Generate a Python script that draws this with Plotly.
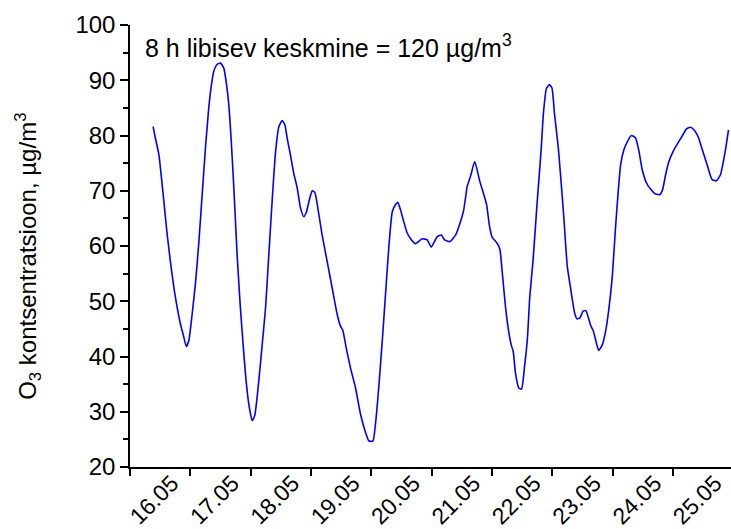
import plotly.graph_objects as go

# hours since 16.05 00:00
hours = [9.2, 10.1, 11.5, 13.2, 14.8, 16.4, 18.1, 20.1, 21.2, 22.4, 23.4, 24.7, 26.1, 27.4,
         28.7, 30.0, 31.3, 32.4, 33.3, 34.7, 36.0, 37.3, 38.4, 39.3, 40.2, 41.3, 42.6, 43.9,
         45.3, 46.6, 47.6, 48.6, 49.6, 50.8, 52.2, 53.9, 55.2, 56.6, 57.9, 59.2, 60.5, 61.6,
         62.5, 63.8, 65.1, 66.5, 67.8, 69.1, 70.2, 71.5, 72.5, 73.5, 74.7, 76.4, 78.4, 80.4,
         82.4, 83.7, 84.6, 86.0, 87.7, 89.7, 91.7, 93.7, 95.0, 96.6, 97.6, 98.9, 100.3, 101.6,
         102.9, 104.3, 105.6, 106.5, 107.6, 108.8, 110.2, 111.6, 113.5, 116.2, 118.2, 119.8,
         122.2, 123.8, 125.1, 127.2, 129.5, 131.0, 132.7, 134.1, 135.4, 137.1, 139.1, 140.7,
         141.8, 143.0, 144.0, 146.0, 147.1, 148.0, 149.3, 150.6, 151.6, 152.4, 153.3, 154.6,
         155.7, 156.9, 158.0, 159.0, 160.3, 161.9, 163.5, 164.4, 165.6, 166.8, 167.8, 168.8,
         170.4, 172.5, 173.9, 175.5, 176.8, 177.8, 178.9, 180.2, 181.3, 182.5, 183.4, 184.2,
         185.5, 186.4, 187.8, 189.1, 190.4, 191.8, 193.1, 195.1, 196.4, 197.9, 199.4, 201.0,
         202.3, 203.7, 205.4, 207.0, 209.0, 210.7, 211.8, 213.0, 214.3, 216.3, 218.1, 219.7,
         221.3, 222.9, 224.5, 226.1, 227.6, 229.5, 231.5, 233.2, 234.8, 236.8, 238.0]

o3 = [81.6, 79.5, 76.5, 69.3, 62.0, 56.0, 50.6, 45.8, 43.9, 41.8, 42.9, 47.6, 53.6, 60.8,
      69.3, 77.7, 84.9, 89.2, 91.6, 92.9, 93.1, 92.2, 89.2, 85.5, 79.5, 70.5, 58.4, 48.8,
      40.3, 33.7, 30.4, 28.4, 29.3, 33.7, 40.3, 48.8, 58.4, 68.7, 77.1, 81.6, 82.7, 81.9,
      79.5, 76.5, 73.2, 70.5, 66.9, 65.3, 66.2, 68.7, 70.0, 69.7, 66.9, 62.0, 57.2, 52.4,
      47.6, 45.5, 44.8, 41.5, 37.9, 34.3, 29.5, 26.2, 24.7, 24.7, 27.7, 34.3, 42.7, 51.2,
      59.6, 66.2, 67.5, 67.9, 66.5, 64.5, 62.4, 61.3, 60.4, 61.3, 61.1, 59.8,
      61.7, 62.0, 61.1, 60.8, 62.0, 63.8, 66.5, 70.8, 72.6, 75.3, 71.7, 69.3,
      67.5, 63.5, 61.6, 60.5, 59.4, 55.4, 49.1, 44.5, 42.1, 40.9, 37.0, 34.3,
      34.1, 38.2, 43.0, 50.9, 57.5, 67.8, 77.4, 84.0, 88.5, 89.2, 88.6, 84.0,
      77.4, 65.3, 56.3, 51.5, 47.9, 46.8, 47.0, 48.2, 48.3, 46.7, 45.4, 44.7,
      42.4, 41.1, 42.1, 44.5, 48.5, 54.5, 63.5, 74.7, 77.4, 79.0, 80.0, 79.6,
      77.4, 73.8, 71.4, 70.3, 69.4, 69.3, 70.2, 72.9, 75.3, 77.4, 78.8, 80.0,
      81.2, 81.5, 80.9, 79.6, 77.4, 74.7, 72.0, 71.8, 72.9, 77.4, 81.0]

day_hours = [0, 24, 48, 72, 96, 120, 144, 168, 192, 216]
day_labels = ["16.05", "17.05", "18.05", "19.05", "20.05", "21.05", "22.05", "23.05", "24.05", "25.05"]

FONT = "Liberation Sans, Arial, sans-serif"

fig = go.Figure(go.Scatter(x=hours, y=o3, mode="lines",
                           line=dict(color="#0000FF", width=1.6, shape="spline", smoothing=0.5),
                           showlegend=False, hoverinfo="x+y"))

fig.update_layout(
    width=731, height=529,
    margin=dict(l=130, r=0, t=25, b=62),
    paper_bgcolor="white", plot_bgcolor="white",
    font=dict(family=FONT, size=24, color="black"),
    xaxis=dict(range=[0, 239], tickvals=day_hours, ticktext=day_labels, tickangle=-45,
               ticks="outside", ticklen=7, tickwidth=1.5, tickcolor="black", automargin=False,
               showline=True, linewidth=1.5, linecolor="black", showgrid=False, zeroline=False,
               tickfont=dict(family=FONT, size=23, color="black"), ticklabelshift=42,
               ticklabelstandoff=-15),
    yaxis=dict(range=[20, 100], dtick=10, tick0=20, ticks="outside", ticklen=8, tickwidth=1.5,
               tickcolor="black", showline=True, linewidth=1.5, linecolor="black",
               showgrid=False, zeroline=False, automargin=False,
               tickfont=dict(family=FONT, size=24, color="black"),
               minor=dict(dtick=5, ticks="outside", ticklen=5, tickwidth=1.5, tickcolor="black",
                          showgrid=False)),
    annotations=[
        dict(text="8 h libisev keskmine = 120 µg/m<sup>3</sup>", xref="paper", yref="paper",
             x=0.0216, y=0.9525, xanchor="left", yanchor="middle", showarrow=False,
             font=dict(family=FONT, size=25, color="black")),
        dict(text="O<sub>3</sub> kontsentratsioon, µg/m<sup>3</sup>", xref="paper", yref="paper",
             x=-0.171, y=0.476, xanchor="center", yanchor="middle", textangle=-90,
             showarrow=False, font=dict(family=FONT, size=24, color="black")),
    ],
)

fig.write_html("out.html")
